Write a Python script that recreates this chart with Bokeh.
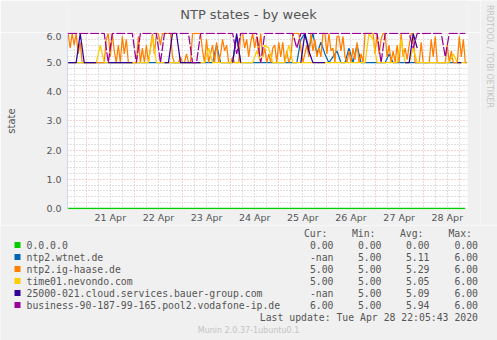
import math
from bokeh.plotting import figure
from bokeh.layouts import column, row
from bokeh.models import FixedTicker, Range1d, PrintfTickFormatter
from bokeh.core.properties import value
from bokeh.embed import file_html
from bokeh.resources import INLINE

nan = float("nan")

# ---- time axis: hours since 2020-04-20 00:00 ----
t_first = 14.67          # left edge of graph (Apr 20 ~14:40)
t_last = 214.08          # last update Apr 28 22:05
day_labels = ["21 Apr", "22 Apr", "23 Apr", "24 Apr", "25 Apr", "26 Apr", "27 Apr", "28 Apr"]
day_midnights = [24, 48, 72, 96, 120, 144, 168, 192]
day_noons = [36, 60, 84, 108, 132, 156, 180, 204]

# hourly samples (ntp2.ig-haase.de) and 2-hourly samples (others)
t_hourly = [15 + j for j in range(200)]
t_2h = [15 + 2 * i for i in range(100)]

names = ["0.0.0.0", "ntp2.wtnet.de", "ntp2.ig-haase.de", "time01.nevondo.com",
         "25000-021.cloud.services.bauer-group.com",
         "business-90-187-99-165.pool2.vodafone-ip.de"]
colors = ["#00CC00", "#0066B3", "#FF8000", "#FFCC00", "#330099", "#990099"]
cur = ["0.00", "-nan", "5.00", "5.00", "-nan", "6.00"]
mins = ["0.00", "5.00", "5.00", "5.00", "5.00", "5.00"]
avgs = ["0.00", "5.11", "5.29", "5.05", "5.09", "5.94"]
maxs = ["0.00", "6.00", "6.00", "6.00", "6.00", "6.00"]
headers = ["Cur:", "Min:", "Avg:", "Max:"]

s_zero = [0.0] * 100

s_wtnet = [
    5, 5, 5, 5, 5, 5, 5, 5, 5, 5,
    5, 5, 5, 5, 5, 5, 5, 5, 5, 5,
    5, 5, 5, 5, 5, 5, 5, 5, 5, 5,
    5, 5, 5, 5, 5, 5, 5, 5.6, 5, 5,
    5, 5, 5.9, 5, 5, 5, 5, 5, 5, 5,
    5, 5, 5, 5, 5, 5, 5, 5, 5.8, 6,
    5.5, 6, 5.3, 5.7, 5.3, 5, 5.2, 5.4, 5, 5,
    5.5, 5, 5.6, 5, 5, 5, 5, 5, 5, 5,
    5.3, 5, 5, 5, 5, 5, 5, 5, 5, 5,
    5, 5, 5, 5, 5, 5, 5, 5, 5, nan]

s_ighaase = [
    6, 5.5, 6, 5.6, 6, 5.3, 5.7, 5, 5, 5,
    5, 5, 5, 5, 5, 5, 5, 5, 5, 5.8,
    6, 5.2, 6, 5.4, 5, 5.6, 5, 5.9, 5.3, 5.8,
    5, 5, 5, 5, 5, 5.9, 5, 5.5, 5, 5.6,
    5, 5.5, 6, 5.3, 6, 6, 5.6, 6, 6, 6,
    6, 6, 5.2, 5, 5, 5, 5.2, 5, 5, 5.3,
    5, 5, 6, 6, 6, 6, 6, 5.4, 5, 5.8,
    5, 5.3, 5.6, 5, 5.7, 5, 5.3, 5.8, 5.4, 5.6,
    5, 5, 5.2, 5, 5, 5, 6, 6, 5.5, 5.8,
    5.2, 5.7, 6, 5.5, 5.9, 5.3, 6, 5.2, 5.5, 5,
    5.3, 5, 5.5, 5.6, 5, 5.7, 5.2, 5.7, 5, 5.4,
    5, 5.2, 6, 6, 6, 6, 5.5, 5, 5.3, 5.6,
    5.2, 6, 5.4, 5.8, 5.2, 5.5, 5.2, 6, 6, 5.3,
    6, 5.4, 5.5, 5, 5.9, 5.9, 5.4, 5.9, 5.2, 5,
    5.4, 5, 5.5, 5.1, 5.7, 5, 5.3, 5, 6, 6,
    6, 6, 6, 5.3, 6, 5.3, 5.8, 6, 6, 5.2,
    5.6, 5, 5.4, 5, 5.6, 5, 6, 5.2, 5.5, 5.1,
    5.6, 6, 6, 5, 5, 5, 5.7, 5, 5, 5,
    5, 5.8, 5.2, 5.9, 5, 5, 5, 5, 5, 5.6,
    5, 5.4, 5, 5, 5, 5.9, 5.2, 5.8, 5, 5]

s_nevondo = [
    5, 5, 5, 5, 5, 5, 5, 5, 5.6, 5,
    5, 5, 5, 5, 5, 5, 5, 5, 5, 5,
    5, 5.9, 5, 5, 5, 5, 5, 5, 5, 5,
    5, 5, 5, 5, 5, 5.5, 5, 5, 5, 5,
    5, 5, 5, 5, 5, 5, 5, 5.4, 5, 5.6,
    5.5, 5, 5, 5, 5, 5.6, 5, 5, 5, 5,
    5, 5, 5, 5, 5, 5, 5, 5, 5, 5,
    5, 5, 5, 5, 5, 6, 5.8, 5, 5, 5,
    5, 5, 5, 5.8, 5, 5, 5.5, 5, 5, 5,
    5, 5, 5, 5, 5, 5, 5.3, 5, 5, 5]

s_bauer = [
    5, 5, 5, 6, 5, 5, 5, 5, nan, nan,
    5, 5, 5, 5, 5, 5, 5, nan, nan, nan,
    nan, nan, nan, nan, 5, 5, 6, 6, 5, 5,
    5, 5, 5, 5, nan, nan, nan, nan, nan, nan,
    nan, 5, 6, 5, nan, nan, nan, nan, nan, nan,
    nan, nan, nan, nan, nan, nan, nan, nan, 5, 6,
    5.4, 5, 5, 5, 5, nan, nan, nan, nan, nan,
    nan, nan, nan, nan, nan, nan, nan, nan, nan, nan,
    nan, nan, nan, nan, 5, 5, 6, 5.5, nan, nan,
    nan, nan, nan, nan, nan, nan, nan, 5, 5, nan]

s_vodafone = [
    6, 6, 6, 6, 6, 6, 6, 6, 6, 6,
    5, 6, 6, 6, 6, 6, 6, 5, 6, 6,
    6, 6, 6, 5, 6, 6, 6, 6, 6, 6,
    6, 5, 5, 6, 6, 6, 6, 6, 6, 6,
    6, 6, 5.3, 6, 6, 6, 6, 6, 5, 6,
    6, 6, 6, 6, 6, 6, 6, 5.5, 6, 6,
    6, 6, 6, 6, 6, 6, 6, 6, 6, 6,
    6, 6, 6, 6, 6, 6, 6, 6, 5, 6,
    6, 6, 6, 6, 6, 6, 5.5, 6, 6, 6,
    6, 6, 6, 6, 5.2, 6, 6, 6, 6, 6]

BG = "#F0F0F0"
TXT = "#555555"
AXIS = "#CFD6F8"
MONO = "DejaVu Sans Mono"
SANS = "DejaVu Sans"
MSZ = "9.8px"

# ---- canvas layout ----
W, H = 497, 340
MAIN_W = 480           # left block width (title + graph)
HEAD_H = 32            # title strip
MAIN_H = 193           # graph strip (frame 177 px tall)
LEG_H = H - HEAD_H - MAIN_H
FL, FR, FB = 67, 467, 177
Y_PER = 29.167
y_bot = -1.0 / Y_PER
y_top = (FB - 0) / Y_PER - 1.0 / Y_PER


def aux(w, h, left=0, right=0):
    f = figure(width=w, height=h, output_backend="svg", toolbar_location=None,
               x_range=Range1d(left, w - right), y_range=Range1d(h, 0),
               x_axis_type=None, y_axis_type=None, min_border=0,
               min_border_left=left, min_border_right=right, min_border_top=0, min_border_bottom=0,
               title=None)
    f.border_fill_color = BG
    f.background_fill_color = BG
    f.outline_line_color = None
    return f


# title strip (its frame is aligned with the graph frame, so x is in canvas px 67..467)
p_head = aux(MAIN_W, HEAD_H, left=FL, right=MAIN_W - FR)
p_head.text(x=[248], y=[13.5], text=["NTP states - by week"], text_font=value(SANS),
            text_font_size="13px", text_color=TXT, text_align="center", text_baseline="middle")

# main graph
p = figure(width=MAIN_W, height=MAIN_H, output_backend="svg", toolbar_location=None,
           x_range=Range1d(t_first, t_last), y_range=Range1d(y_bot, y_top),
           min_border_left=FL, min_border_right=MAIN_W - FR,
           min_border_top=0, min_border_bottom=MAIN_H - FB, title=None)
p.border_fill_color = BG
p.background_fill_color = "#FFFFFF"
p.outline_line_color = None

p.xaxis.ticker = FixedTicker(ticks=day_noons)
p.xaxis.major_label_overrides = {n: l for n, l in zip(day_noons, day_labels)}
p.yaxis.ticker = FixedTicker(ticks=[0, 1, 2, 3, 4, 5, 6])
p.yaxis.formatter = PrintfTickFormatter(format="%.1f")
for ax in (p.xaxis[0], p.yaxis[0]):
    ax.axis_line_color = AXIS
    ax.major_tick_line_color = None
    ax.minor_tick_line_color = None
    ax.major_tick_out = 0
    ax.major_tick_in = 0
    ax.major_label_text_font = SANS
    ax.major_label_text_font_size = "9.5px"
    ax.major_label_text_color = TXT
p.xaxis.axis_line_color = None
p.xaxis.major_label_standoff = 2
p.yaxis.major_label_standoff = 6
p.yaxis.axis_label = "state"
p.yaxis.axis_label_text_font = SANS
p.yaxis.axis_label_text_font_size = "10px"
p.yaxis.axis_label_text_font_style = "normal"
p.yaxis.axis_label_text_color = TXT
p.yaxis.axis_label_standoff = 26

p.xgrid.ticker = FixedTicker(ticks=day_midnights,
                             minor_ticks=[h for h in range(18, 215, 6) if h % 24 != 0])
p.ygrid.ticker = FixedTicker(ticks=[1, 2, 3, 4, 5, 6],
                             minor_ticks=[k / 5 for k in range(1, 31) if k % 5 != 0])
for g in (p.xgrid[0], p.ygrid[0]):
    g.grid_line_color = "#E07070"
    g.grid_line_alpha = 0.6
    g.grid_line_dash = "1 2"
    g.minor_grid_line_color = "#C0C0C0"
    g.minor_grid_line_dash = "1 2"

LW = 1.25
p.line(t_2h, s_zero, line_color=colors[0], line_width=1.3)
p.line(t_2h, s_wtnet, line_color=colors[1], line_width=LW)
p.line(t_hourly, s_ighaase, line_color=colors[2], line_width=LW)
p.line(t_2h, s_nevondo, line_color=colors[3], line_width=LW)
p.line(t_2h, s_bauer, line_color=colors[4], line_width=LW)
p.line(t_2h, s_vodafone, line_color=colors[5], line_width=LW, line_dash="9 2")

# right strip with the vertical credit
p_side = aux(W - MAIN_W, HEAD_H + MAIN_H)
p_side.text(x=[8.5], y=[56], text=["RRDTOOL / TOBI OETIKER"], text_font=value(SANS),
            text_font_size="8px", text_color="#C4C4C4", text_align="center",
            text_baseline="middle", angle=-math.pi / 2)

# legend strip
p_leg = aux(W, LEG_H)
y0 = HEAD_H + MAIN_H
col_right = [333, 381, 429, 477.5]
row_y = [244.5 + 12 * k - y0 for k in range(6)]
p_leg.rect(x=[17] * 6, y=row_y, width=6, height=6, fill_color=colors, line_color=None)
p_leg.text(x=[26] * 6, y=row_y, text=names, text_font=value(MONO), text_font_size=MSZ,
           text_color=TXT, text_align="left", text_baseline="middle")
p_leg.text(x=[c - 6 for c in col_right], y=[232.5 - y0] * 4, text=headers, text_font=value(MONO),
           text_font_size=MSZ, text_color=TXT, text_align="right", text_baseline="middle")
for cx, vals in zip(col_right, (cur, mins, avgs, maxs)):
    p_leg.text(x=[cx] * 6, y=row_y, text=vals, text_font=value(MONO), text_font_size=MSZ,
               text_color=TXT, text_align="right", text_baseline="middle")
p_leg.text(x=[477.5], y=[316.5 - y0], text=["Last update: Tue Apr 28 22:05:43 2020"],
           text_font=value(MONO), text_font_size=MSZ, text_color=TXT,
           text_align="right", text_baseline="middle")
p_leg.text(x=[248], y=[330 - y0], text=["Munin 2.0.37-1ubuntu0.1"], text_font=value(SANS),
           text_font_size="8px", text_color="#C4C4C4", text_align="center", text_baseline="middle")

layout = column(row(column(p_head, p), p_side), p_leg)
open("out.html", "w").write(file_html(layout, INLINE))
